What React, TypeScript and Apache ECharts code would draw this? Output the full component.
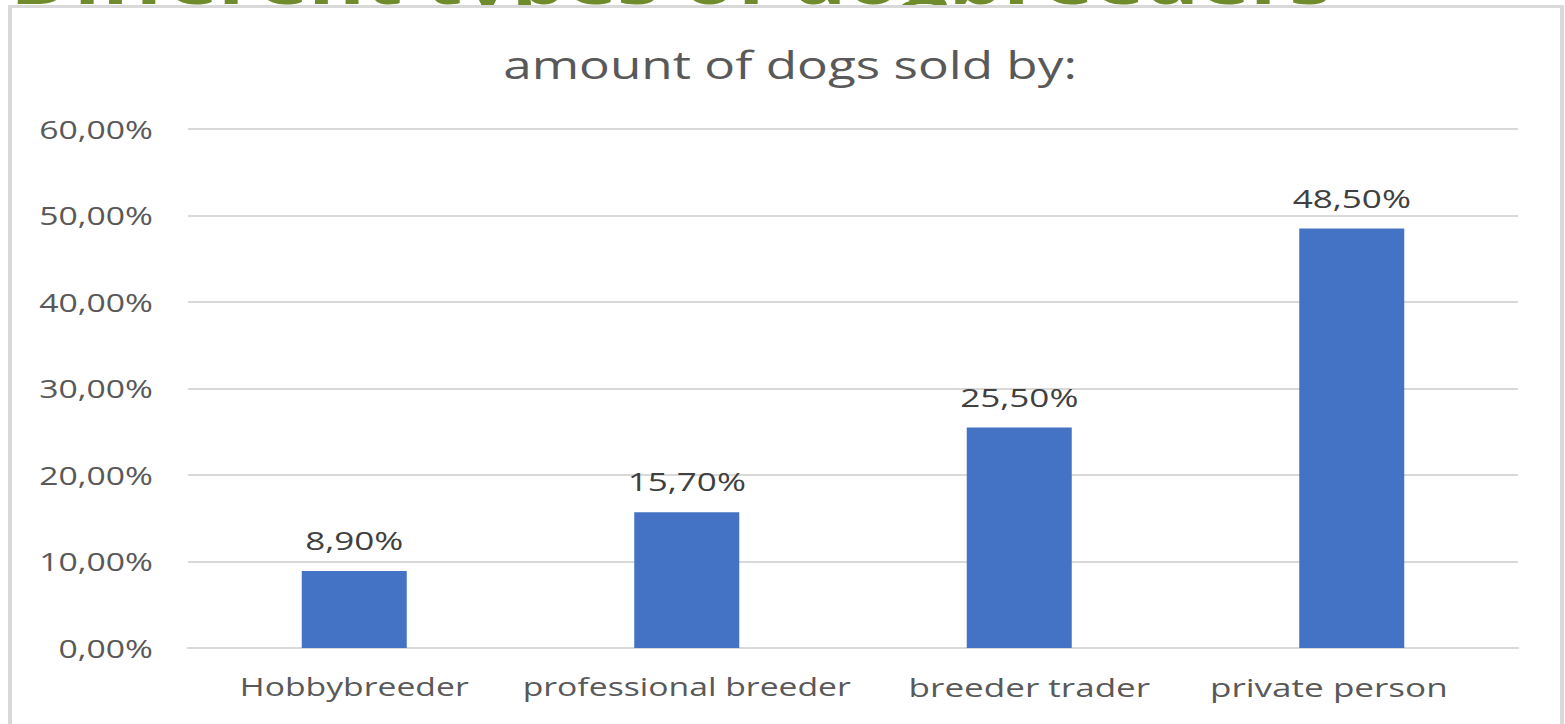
import React, { useEffect, useRef } from "react";
import * as echarts from "echarts";

const categories = ["Hobbybreeder", "professional breeder", "breeder trader", "private person"];
const shares = [0.089, 0.157, 0.255, 0.485];
const yTicks = { min: 0, max: 0.6, interval: 0.1 };
const chartTitle = "amount of dogs sold by:";
const slideTitle = "Different types of dogbreeders";

const W = 1565;
const H = 724;
const IW = 1160;
const S = W / IW;
const ix = (x: number) => x / S;

const pct = (v: number) => (v * 100).toFixed(2).replace(".", ",") + "%";

const labelStyles = [
  { fontSize: 25 },
  { fontSize: 25 },
  { fontSize: 26, padding: [0, 0, 6, 15] },
  { fontSize: 26, padding: [0, 34, 10, 0] },
];

export default function App() {
  const ref = useRef<HTMLDivElement>(null);
  useEffect(() => {
    if (!ref.current) return;
    const chart = echarts.init(ref.current, null, { renderer: "svg" });
    chart.setOption({
      animation: false,
      backgroundColor: "#ffffff",
      title: {
        text: chartTitle,
        left: ix(790),
        textAlign: "center",
        top: 45,
        padding: 0,
        textStyle: { fontFamily: "'Open Sans', sans-serif", fontSize: 38, fontWeight: "normal", color: "#595959" },
      },
      graphic: [
        {
          type: "text",
          z: -20,
          style: {
            text: slideTitle,
            x: ix(10),
            y: 11,
            align: "left",
            verticalAlign: "bottom",
            font: "bold 64px 'Open Sans', sans-serif",
            fill: "#6f8b2c",
          },
        },
        {
          type: "rect",
          z: -10,
          shape: { x: ix(10), y: 6.5, width: ix(1562) - ix(10), height: 740 },
          style: { fill: "#ffffff", stroke: "#d9d9d9", lineWidth: 3 },
        },
      ],
      grid: { left: ix(188), right: IW - ix(1518), top: 129, bottom: 76, containLabel: false },
      xAxis: {
        type: "category",
        data: categories.map((c, i) => ({
          value: c,
          textStyle: { fontFamily: "'Open Sans', sans-serif", ...labelStyles[i] },
        })),
        axisTick: { show: false },
        axisLine: { lineStyle: { color: "#d9d9d9", width: 2 } },
        axisLabel: {
          color: "#595959",
          margin: 26,
          interval: 0,
          hideOverlap: false,
          fontFamily: "'Open Sans', sans-serif",
          fontSize: 25,
        },
      },
      yAxis: {
        type: "value",
        min: yTicks.min,
        max: yTicks.max,
        interval: yTicks.interval,
        axisLine: { show: false },
        axisTick: { show: false },
        splitLine: { lineStyle: { color: "#d9d9d9", width: 2 } },
        axisLabel: {
          color: "#595959",
          fontFamily: "'Open Sans', sans-serif",
          fontSize: 25,
          margin: 26,
          formatter: (v: number) => pct(v),
        },
      },
      series: [
        {
          type: "bar",
          data: shares,
          barWidth: ix(105),
          itemStyle: { color: "#4472c4" },
          label: {
            show: true,
            position: "top",
            distance: 18,
            color: "#404040",
            fontFamily: "'Open Sans', sans-serif",
            fontSize: 26,
            formatter: (p: any) => pct(p.value),
          },
        },
      ],
    });
    return () => chart.dispose();
  }, []);
  return (
    <div style={{ position: "fixed", left: 0, top: 0, width: W, height: H, overflow: "hidden", background: "#fff" }}>
      <div
        ref={ref}
        style={{ width: IW, height: H, transform: `scaleX(${S})`, transformOrigin: "0 0" }}
      />
    </div>
  );
}
